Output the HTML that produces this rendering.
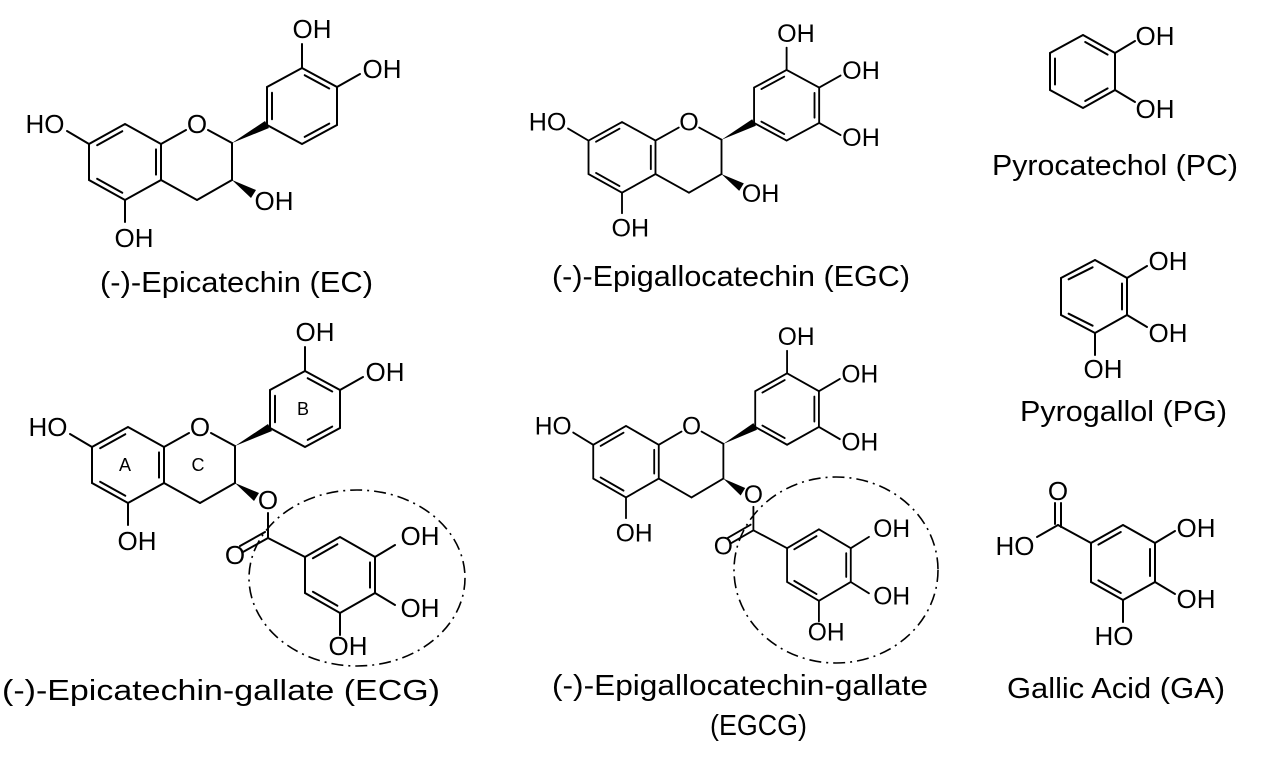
<!DOCTYPE html>
<html><head><meta charset="utf-8"><style>
html,body{margin:0;padding:0;background:#fff;}
svg{display:block;}
.b line,.b polyline{stroke:#000;stroke-width:2;fill:none;stroke-linecap:round;}
.t{font-family:"Liberation Sans",sans-serif;font-size:26px;fill:#000;text-anchor:middle;}
.s .t{font-size:27px;}
.L{font-family:"Liberation Sans",sans-serif;font-size:29px;fill:#000;}
.r{font-family:"Liberation Sans",sans-serif;font-size:18px;fill:#000;text-anchor:middle;}
</style></head><body>
<svg width="1273" height="760" viewBox="0 0 1273 760" xmlns="http://www.w3.org/2000/svg">

<!-- EC -->
<g class="b">
<polyline points="186,130 161,144 125,124 89,144 89,180 125,200 161,180 161,144"/>
<line x1="208" y1="130" x2="232" y2="143"/><line x1="232" y1="143" x2="232" y2="180"/>
<line x1="232" y1="180" x2="197" y2="200"/><line x1="197" y1="200" x2="161" y2="180"/>
<line x1="122.3" y1="131.2" x2="97.1" y2="145.2"/><line x1="97.1" y1="178.8" x2="122.3" y2="192.8"/><line x1="156" y1="174.6" x2="156" y2="149.4"/>
<line x1="89" y1="144" x2="67" y2="131"/><line x1="125" y1="200" x2="125" y2="222"/>
<polyline points="267,125 267,87 302,68 337,87 337,125 302,144 267,125"/>
<line x1="272" y1="119.3" x2="272" y2="92.7"/><line x1="304.7" y1="75.2" x2="329.2" y2="88.5"/><line x1="329.2" y1="123.6" x2="304.7" y2="136.9"/>
<line x1="302" y1="68" x2="302" y2="44"/><line x1="337" y1="87" x2="360" y2="74"/>
</g>
<polygon points="232,143 265,121 269,128" fill="#000"/>
<polygon points="232,180 256,190 251,198" fill="#000"/>
<text class="t" x="45" y="133">HO</text><text class="t" x="197" y="133">O</text>
<text class="t" x="134" y="247">OH</text><text class="t" x="274" y="210">OH</text>
<text class="t" x="312" y="38">OH</text><text class="t" x="382" y="78">OH</text>
<text class="L" x="100" y="292" textLength="273" lengthAdjust="spacingAndGlyphs">(-)-Epicatechin (EC)</text>

<!-- ECG -->
<g transform="translate(3,303)">
<g class="b">
<polyline points="186,130 161,144 125,124 89,144 89,180 125,200 161,180 161,144"/>
<line x1="208" y1="130" x2="232" y2="143"/><line x1="232" y1="143" x2="232" y2="180"/>
<line x1="232" y1="180" x2="197" y2="200"/><line x1="197" y1="200" x2="161" y2="180"/>
<line x1="122.3" y1="131.2" x2="97.1" y2="145.2"/><line x1="97.1" y1="178.8" x2="122.3" y2="192.8"/><line x1="156" y1="174.6" x2="156" y2="149.4"/>
<line x1="89" y1="144" x2="67" y2="131"/><line x1="125" y1="200" x2="125" y2="222"/>
<polyline points="267,125 267,87 302,68 337,87 337,125 302,144 267,125"/>
<line x1="272" y1="119.3" x2="272" y2="92.7"/><line x1="304.7" y1="75.2" x2="329.2" y2="88.5"/><line x1="329.2" y1="123.6" x2="304.7" y2="136.9"/>
<line x1="302" y1="68" x2="302" y2="44"/><line x1="337" y1="87" x2="360" y2="74"/>
<line x1="265" y1="210" x2="265" y2="235"/><line x1="265" y1="235" x2="240" y2="249"/><line x1="262" y1="229" x2="237" y2="243"/>
<line x1="265" y1="235" x2="302" y2="254"/>
<polyline points="302,254 337,234 372,254 372,290 337,310 302,290 302,254"/>
<line x1="309.9" y1="255.2" x2="334.4" y2="241.2"/><line x1="367" y1="259.4" x2="367" y2="284.6"/><line x1="334.4" y1="302.8" x2="309.9" y2="288.8"/>
<line x1="372" y1="254" x2="392" y2="242"/><line x1="372" y1="290" x2="392" y2="302"/><line x1="337" y1="310" x2="337" y2="332"/>
</g>
<polygon points="232,143 265,121 269,128" fill="#000"/>
<polygon points="232,180 256,190 251,198" fill="#000"/>
<text class="t" x="45" y="133">HO</text><text class="t" x="197" y="133">O</text>
<text class="t" x="134" y="247">OH</text>
<text class="t" x="312" y="38">OH</text><text class="t" x="382" y="78">OH</text>
<text class="t" x="265" y="206">O</text><text class="t" x="232" y="261">O</text>
<text class="t" x="417" y="242">OH</text><text class="t" x="417" y="314">OH</text><text class="t" x="345" y="352">OH</text>
<text class="r" x="122" y="168">A</text><text class="r" x="195" y="168">C</text><text class="r" x="300" y="112">B</text>
</g>
<ellipse cx="357" cy="578" rx="108" ry="88" fill="none" stroke="#000" stroke-width="1.6" stroke-dasharray="12,5,2,5"/>
<text class="L" x="2" y="700" textLength="438" lengthAdjust="spacingAndGlyphs">(-)-Epicatechin-gallate (ECG)</text>

<!-- EGC -->
<g class="s" transform="translate(505.75,6.7) scale(0.93)">
<g class="b">
<polyline points="186,130 161,144 125,124 89,144 89,180 125,200 161,180 161,144"/>
<line x1="208" y1="130" x2="232" y2="143"/><line x1="232" y1="143" x2="232" y2="180"/>
<line x1="232" y1="180" x2="197" y2="200"/><line x1="197" y1="200" x2="161" y2="180"/>
<line x1="122.3" y1="131.2" x2="97.1" y2="145.2"/><line x1="97.1" y1="178.8" x2="122.3" y2="192.8"/><line x1="156" y1="174.6" x2="156" y2="149.4"/>
<line x1="89" y1="144" x2="67" y2="131"/><line x1="125" y1="200" x2="125" y2="222"/>
<polyline points="267,125 267,87 302,68 337,87 337,125 302,144 267,125"/>
<line x1="274.9" y1="88.5" x2="299.4" y2="75.2"/><line x1="332" y1="92.7" x2="332" y2="119.3"/><line x1="299.4" y1="136.9" x2="274.9" y2="123.6"/>
<line x1="302" y1="68" x2="302" y2="44"/><line x1="337" y1="87" x2="360" y2="74"/><line x1="337" y1="125" x2="360" y2="138"/>
</g>
<polygon points="232,143 265,121 269,128" fill="#000"/>
<polygon points="232,180 256,190 251,198" fill="#000"/>
<text class="t" x="45" y="133">HO</text><text class="t" x="197" y="133">O</text>
<text class="t" x="134" y="247">OH</text><text class="t" x="274" y="210">OH</text>
<text class="t" x="312" y="38">OH</text><text class="t" x="382" y="78">OH</text><text class="t" x="382" y="150">OH</text>
</g>
<text class="L" x="552" y="286" textLength="358" lengthAdjust="spacingAndGlyphs">(-)-Epigallocatechin (EGC)</text>

<!-- EGCG -->
<g class="s" transform="translate(512.25,309.4) scale(0.91,0.94)">
<g class="b">
<polyline points="186,130 161,144 125,124 89,144 89,180 125,200 161,180 161,144"/>
<line x1="208" y1="130" x2="232" y2="143"/><line x1="232" y1="143" x2="232" y2="180"/>
<line x1="232" y1="180" x2="197" y2="200"/><line x1="197" y1="200" x2="161" y2="180"/>
<line x1="122.3" y1="131.2" x2="97.1" y2="145.2"/><line x1="97.1" y1="178.8" x2="122.3" y2="192.8"/><line x1="156" y1="174.6" x2="156" y2="149.4"/>
<line x1="89" y1="144" x2="67" y2="131"/><line x1="125" y1="200" x2="125" y2="222"/>
<polyline points="267,125 267,87 302,68 337,87 337,125 302,144 267,125"/>
<line x1="274.9" y1="88.5" x2="299.4" y2="75.2"/><line x1="332" y1="92.7" x2="332" y2="119.3"/><line x1="299.4" y1="136.9" x2="274.9" y2="123.6"/>
<line x1="302" y1="68" x2="302" y2="44"/><line x1="337" y1="87" x2="360" y2="74"/><line x1="337" y1="125" x2="360" y2="138"/>
<line x1="265" y1="210" x2="265" y2="235"/><line x1="265" y1="235" x2="240" y2="249"/><line x1="262" y1="229" x2="237" y2="243"/>
<line x1="265" y1="235" x2="302" y2="254"/>
<polyline points="302,254 337,234 372,254 372,290 337,310 302,290 302,254"/>
<line x1="309.9" y1="255.2" x2="334.4" y2="241.2"/><line x1="367" y1="259.4" x2="367" y2="284.6"/><line x1="334.4" y1="302.8" x2="309.9" y2="288.8"/>
<line x1="372" y1="254" x2="392" y2="242"/><line x1="372" y1="290" x2="392" y2="302"/><line x1="337" y1="310" x2="337" y2="332"/>
</g>
<polygon points="232,143 265,121 269,128" fill="#000"/>
<polygon points="232,180 256,190 251,198" fill="#000"/>
<text class="t" x="45" y="133">HO</text><text class="t" x="197" y="133">O</text>
<text class="t" x="134" y="247">OH</text>
<text class="t" x="312" y="38">OH</text><text class="t" x="382" y="78">OH</text><text class="t" x="382" y="150">OH</text>
<text class="t" x="265" y="206">O</text><text class="t" x="232" y="261">O</text>
<text class="t" x="417" y="242">OH</text><text class="t" x="417" y="314">OH</text><text class="t" x="345" y="352">OH</text>
</g>
<ellipse cx="836" cy="570" rx="102" ry="93" fill="none" stroke="#000" stroke-width="1.6" stroke-dasharray="12,5,2,5"/>
<text class="L" x="552" y="695" textLength="376" lengthAdjust="spacingAndGlyphs">(-)-Epigallocatechin-gallate</text>
<text class="L" x="710" y="735" textLength="97" lengthAdjust="spacingAndGlyphs">(EGCG)</text>

<!-- PC -->
<g class="b">
<polyline points="1083,35 1050,53 1050,90 1083,108 1115,90 1115,53 1083,35"/>
<line x1="1055" y1="58.5" x2="1055" y2="84.5"/><line x1="1107.6" y1="54.6" x2="1085.2" y2="42"/><line x1="1085.2" y1="101" x2="1107.6" y2="88.4"/>
<line x1="1115" y1="53" x2="1135" y2="41"/><line x1="1115" y1="90" x2="1135" y2="102"/>
</g>
<text class="t" x="1155" y="45">OH</text><text class="t" x="1155" y="118">OH</text>
<text class="L" x="992" y="175" textLength="246" lengthAdjust="spacingAndGlyphs">Pyrocatechol (PC)</text>

<!-- PG -->
<g class="b">
<polyline points="1095,260 1061,278 1061,315 1095,333 1127,315 1127,278 1095,260"/>
<line x1="1092.6" y1="267.3" x2="1068.6" y2="279.3"/><line x1="1122" y1="283.5" x2="1122" y2="309.5"/><line x1="1068.6" y1="313.7" x2="1092.6" y2="325.7"/>
<line x1="1127" y1="278" x2="1147" y2="266"/><line x1="1127" y1="315" x2="1147" y2="327"/><line x1="1095" y1="333" x2="1095" y2="355"/>
</g>
<text class="t" x="1168" y="270">OH</text><text class="t" x="1168" y="342">OH</text><text class="t" x="1103" y="378">OH</text>
<text class="L" x="1020" y="421" textLength="207" lengthAdjust="spacingAndGlyphs">Pyrogallol (PG)</text>

<!-- GA -->
<g class="b">
<polyline points="1123,525 1091,543 1091,582 1123,600 1155,582 1155,543 1123,525"/>
<line x1="1120.8" y1="532" x2="1098.4" y2="544.6"/><line x1="1150" y1="549" x2="1150" y2="576"/><line x1="1098.4" y1="580.4" x2="1120.8" y2="593"/>
<line x1="1058" y1="525" x2="1091" y2="543"/><line x1="1055" y1="503" x2="1055" y2="524"/><line x1="1061" y1="503" x2="1061" y2="527"/>
<line x1="1058" y1="525" x2="1037" y2="537"/>
<line x1="1155" y1="543" x2="1175" y2="531"/><line x1="1155" y1="582" x2="1175" y2="594"/><line x1="1123" y1="600" x2="1123" y2="622"/>
</g>
<text class="t" x="1058" y="500">O</text><text class="t" x="1015" y="555">HO</text>
<text class="t" x="1196" y="537">OH</text><text class="t" x="1196" y="608">OH</text><text class="t" x="1114" y="645">HO</text>
<text class="L" x="1007" y="698" textLength="218" lengthAdjust="spacingAndGlyphs">Gallic Acid (GA)</text>
</svg>
</body></html>
